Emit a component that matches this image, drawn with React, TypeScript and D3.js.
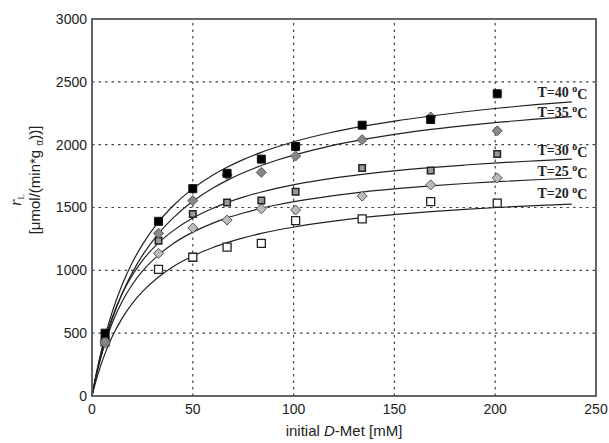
import React from 'react';
import * as d3 from 'd3';

// model curves
const fitX = [0, 2, 4, 6.5, 10, 15, 20, 25, 33, 40, 50, 60, 67, 75, 84, 92, 101, 118, 134, 151, 168, 185, 201, 220, 238];
const fit40 = [0, 167, 315, 476, 667, 887, 1062, 1205, 1386, 1510, 1650, 1758, 1820, 1881, 1939, 1983, 2027, 2095, 2145, 2190, 2228, 2262, 2290, 2318, 2340];
const fit35 = [0, 152, 286, 434, 610, 817, 982, 1119, 1293, 1413, 1549, 1655, 1716, 1776, 1834, 1878, 1921, 1989, 2040, 2084, 2121, 2152, 2177, 2203, 2224];
const fit30 = [0, 165, 306, 455, 626, 816, 961, 1077, 1218, 1312, 1416, 1494, 1539, 1582, 1623, 1654, 1684, 1730, 1764, 1794, 1818, 1838, 1855, 1871, 1885];
const fit25 = [0, 153, 283, 421, 579, 754, 887, 993, 1123, 1210, 1304, 1376, 1417, 1456, 1494, 1522, 1549, 1591, 1623, 1650, 1672, 1691, 1706, 1721, 1733];
const fit20 = [0, 121, 226, 339, 471, 620, 737, 830, 947, 1027, 1114, 1182, 1220, 1258, 1294, 1321, 1347, 1388, 1419, 1445, 1467, 1485, 1500, 1515, 1527];

// measured points
const obsX = [6.5, 33, 50, 67, 84, 101, 134, 168, 201];
const obs40 = [500, 1390, 1650, 1772, 1885, 1985, 2155, 2200, 2405];
const obs35 = [435, 1295, 1555, 1760, 1780, 1910, 2040, 2220, 2110];
const obs30 = [460, 1235, 1448, 1540, 1555, 1626, 1815, 1795, 1925];
const obs25 = [420, 1135, 1337, 1400, 1490, 1480, 1590, 1680, 1735];
const obs20 = [430, 1008, 1104, 1185, 1215, 1395, 1410, 1546, 1535];

const temps = ['40', '35', '30', '25', '20'];
const labelY = [2420, 2262, 1958, 1792, 1618];
const xTicks = [0, 50, 100, 150, 200, 250];
const yTicks = [0, 500, 1000, 1500, 2000, 2500, 3000];

const W = 609;
const H = 443;
const m = { left: 92, right: 13, top: 19, bottom: 47 };

const x = d3.scaleLinear().domain([0, 250]).range([m.left, W - m.right]);
const y = d3.scaleLinear().domain([0, 3000]).range([H - m.bottom, m.top]);

const fits = [fit40, fit35, fit30, fit25, fit20];
const obs = [obs40, obs35, obs30, obs25, obs20];

const line = d3
  .line<number>()
  .x((_, i) => x(fitX[i]))
  .y((d) => y(d))
  .curve(d3.curveMonotoneX);

const sq = (cx: number, cy: number, s: number) =>
  `M${cx - s / 2},${cy - s / 2}h${s}v${s}h${-s}Z`;
const dia = (cx: number, cy: number, r: number) =>
  `M${cx},${cy - r}L${cx + r},${cy}L${cx},${cy + r}L${cx - r},${cy}Z`;

// marker look per series (40,35,30,25,20)
const markers = [
  (cx: number, cy: number) => <path d={sq(cx, cy, 8)} fill="#000" stroke="#111" strokeWidth={1} />,
  (cx: number, cy: number) => <path d={dia(cx, cy, 5)} fill="#888" stroke="#555" strokeWidth={1} />,
  (cx: number, cy: number) => <path d={sq(cx, cy, 6.5)} fill="#999" stroke="#222" strokeWidth={1.5} />,
  (cx: number, cy: number) => <path d={dia(cx, cy, 5)} fill="#bbb" stroke="#555" strokeWidth={1} />,
  (cx: number, cy: number) => <path d={sq(cx, cy, 8)} fill="#fff" stroke="#222" strokeWidth={1.3} />,
];

const sans = "'Liberation Sans', Arial, sans-serif";
const serif = "'Liberation Serif', 'Times New Roman', serif";

export default function App() {
  const x0 = x(0);
  const x1 = x(250);
  const y0 = y(0);
  const y1 = y(3000);
  return (
    <svg width={W} height={H} style={{ position: 'absolute', left: 0, top: 0, background: '#fff' }}>
      <rect width={W} height={H} fill="#fff" />
      {/* grid */}
      {xTicks.slice(1, -1).map((t) => (
        <line key={'gx' + t} x1={x(t)} x2={x(t)} y1={y0} y2={y1} stroke="#444" strokeWidth={1.2} strokeDasharray="2.5,4" />
      ))}
      {yTicks.slice(1, -1).map((t) => (
        <line key={'gy' + t} x1={x0} x2={x1} y1={y(t)} y2={y(t)} stroke="#444" strokeWidth={1.2} strokeDasharray="2.5,4" />
      ))}

      {/* fitted curves */}
      {fits.map((f, i) => (
        <path key={'f' + i} d={line(f) || ''} fill="none" stroke="#222" strokeWidth={1.2} />
      ))}

      {/* data points, 20 C first so 40 C sits on top */}
      {[4, 3, 2, 1, 0].map((k) => (
        <g key={'o' + k}>
          {obs[k].map((v, i) => (
            <React.Fragment key={i}>{markers[k](x(obsX[i]), y(v))}</React.Fragment>
          ))}
        </g>
      ))}

      {/* series labels */}
      {temps.map((t, i) => (
        <text key={'l' + t} x={x(221)} y={y(labelY[i])} dy="0.35em" fontFamily={serif} fontWeight="bold" fontSize={14} fill="#222">
          {`T=${t} `}
          <tspan dy="-0.45em" fontSize={10}>o</tspan>
          <tspan dy="0.45em">C</tspan>
        </text>
      ))}

      {/* frame */}
      <rect x={x0} y={y1} width={x1 - x0} height={y0 - y1} fill="none" stroke="#555" strokeWidth={1.8} />

      {/* tick labels */}
      {xTicks.map((t) => (
        <text key={'xt' + t} x={x(t)} y={y0 + 18} textAnchor="middle" fontFamily={sans} fontSize={14} fill="#222">
          {t}
        </text>
      ))}
      {yTicks.map((t) => (
        <text key={'yt' + t} x={x0 - 5} y={y(t)} dy="0.35em" textAnchor="end" fontFamily={sans} fontSize={14} fill="#222">
          {t}
        </text>
      ))}

      {/* axis titles */}
      <text x={(x0 + x1) / 2} y={H - 7} textAnchor="middle" fontFamily={sans} fontSize={15} fill="#222">
        initial <tspan fontStyle="italic">D</tspan>-Met [mM]
      </text>
      <text transform={`translate(21,200) rotate(-90)`} textAnchor="middle" fontFamily={serif} fontSize={17} fill="#222">
        <tspan fontStyle="italic">r</tspan>
        <tspan fontSize={9} dy="3">L</tspan>
      </text>
      <text transform={`translate(40,180) rotate(-90)`} textAnchor="middle" fontFamily={sans} fontSize={15} fill="#222">
        [μmol/(min*g <tspan fontSize={10} dy="3">α</tspan><tspan dy="-3">))]</tspan>
      </text>
    </svg>
  );
}
